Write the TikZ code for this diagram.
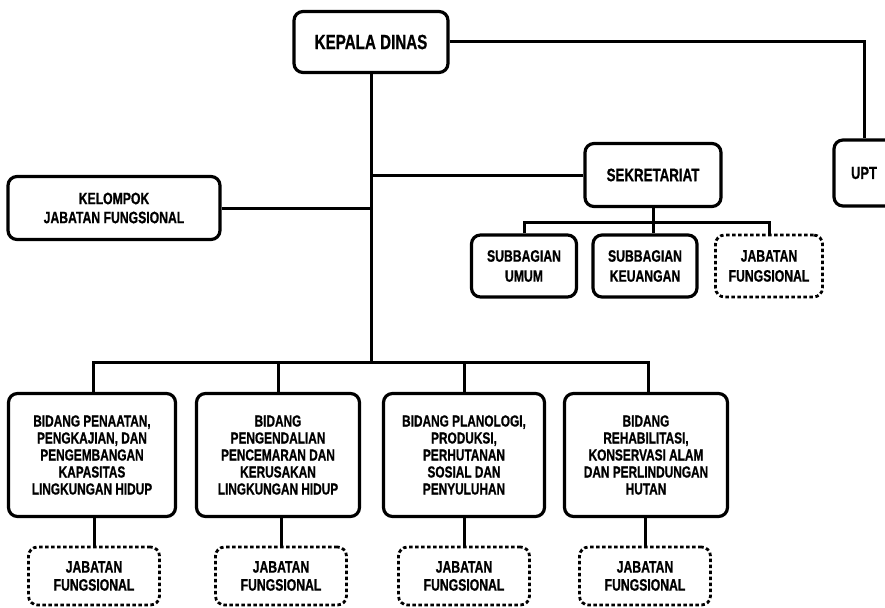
\documentclass[tikz,border=0pt]{standalone}
\usepackage{fontspec}
\setmainfont{Liberation Sans}[FakeStretch=0.74, UprightFont=* Bold, BoldFont=* Bold, FakeBold=0.8]
\usetikzlibrary{positioning}

\begin{document}
\begin{tikzpicture}[x=1pt, y=-1pt,
    every node/.style={font=\fontsize{16}{17}\selectfont, align=center, inner sep=0pt},
    unit/.style={draw, rounded corners=9pt, line width=3.2pt, fill=white},
    fung/.style={unit, line width=2.8pt, dash pattern=on 3.5pt off 2.5pt},
    bidang/.style={unit, minimum height=123pt, minimum width=163pt},
    link/.style={line width=3pt}
]
  \clip (0,0) rectangle (885,607);
  \fill[white] (0,0) rectangle (885,607);

  % pimpinan
  \node[unit, minimum width=154pt, minimum height=61pt, font=\fontsize{20.5}{22}\selectfont] (kadis) at (371,42) {KEPALA DINAS};
  \node[unit, minimum width=60pt, minimum height=66pt, font=\fontsize{17.5}{20}\selectfont] (upt) at (864,173) {UPT};
  \node[unit, minimum width=136pt, minimum height=63pt, font=\fontsize{18}{20}\selectfont] (sek) at (653,175) {SEKRETARIAT};
  \node[unit, minimum width=212pt, minimum height=63pt, font=\fontsize{16.5}{19}\selectfont] (kjf) at (114,208) {KELOMPOK\\JABATAN FUNGSIONAL};

  % sekretariat
  \node[unit, minimum width=105pt, minimum height=62pt, font=\fontsize{16.5}{20}\selectfont] (umum) at (524,266) {SUBBAGIAN\\UMUM};
  \node[unit, minimum width=104pt, minimum height=62pt, font=\fontsize{16.5}{20}\selectfont] (keu) at (645,266) {SUBBAGIAN\\KEUANGAN};
  \node[fung, minimum width=107pt, minimum height=62pt, font=\fontsize{16.5}{20}\selectfont] (jfsek) at (769,266) {JABATAN\\FUNGSIONAL};

  % bidang
  \node[bidang, minimum width=167pt] (b1) at (92,455) {BIDANG PENAATAN,\\PENGKAJIAN, DAN\\PENGEMBANGAN\\KAPASITAS\\LINGKUNGAN HIDUP};
  \node[bidang] (b2) at (278,455) {BIDANG\\PENGENDALIAN\\PENCEMARAN DAN\\KERUSAKAN\\LINGKUNGAN HIDUP};
  \node[bidang, minimum width=161pt] (b3) at (464,455) {BIDANG PLANOLOGI,\\PRODUKSI,\\PERHUTANAN\\SOSIAL DAN\\PENYULUHAN};
  \node[bidang] (b4) at (646,455) {BIDANG\\REHABILITASI,\\KONSERVASI ALAM\\DAN PERLINDUNGAN\\HUTAN};

  \foreach \b/\x in {b1/94, b2/281, b3/464, b4/645}
    \node[fung, minimum width=131pt, minimum height=58pt, font=\fontsize{16.5}{18}\selectfont] (jf\b) at (\x,576) {JABATAN\\FUNGSIONAL};

  % garis
  \coordinate (bus) at (371,362);
  \coordinate (sbus) at (653,222);
  \draw[link] (kadis.south) -- (bus);
  \draw[link] (kadis.east) -| (upt.north);
  \draw[link] (sek.west) -- (sek.west -| kadis.south);
  \draw[link] (kjf.east) -- (kjf.east -| kadis.south);
  \draw[link] (sek.south) -- (sek.south |- keu.north);
  \draw[link] (umum.north) |- (sbus) -| (jfsek.north);
  \draw[link] ([xshift=1pt]b1.north) |- (bus) -| ([xshift=2pt]b4.north);
  \draw[link] (b2.north) -- (b2.north |- bus);
  \draw[link] (b3.north) -- (b3.north |- bus);
  \foreach \b in {b1, b2, b3, b4}
    \draw[link] (\b.south -| jf\b.north) -- (jf\b.north);
\end{tikzpicture}
\end{document}
